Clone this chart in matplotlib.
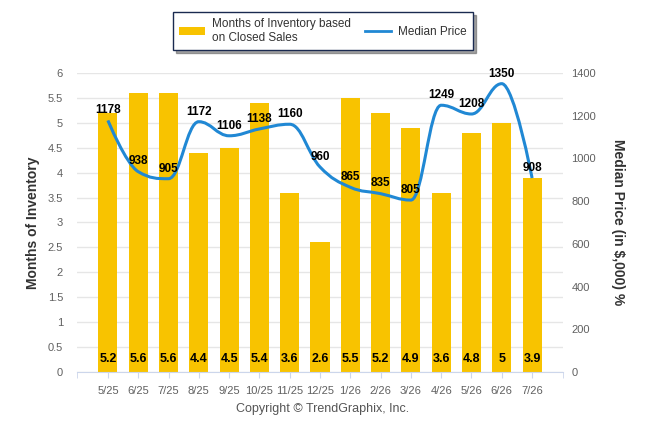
import matplotlib
matplotlib.use("Agg")
import matplotlib.pyplot as plt
from matplotlib.path import Path
from matplotlib.patches import PathPatch, Patch
from matplotlib.lines import Line2D

plt.rcParams['font.family'] = ['Liberation Sans', 'DejaVu Sans']

# Dados do gráfico
meses = ["5/25", "6/25", "7/25", "8/25", "9/25", "10/25", "11/25", "12/25",
         "1/26", "2/26", "3/26", "4/26", "5/26", "6/26", "7/26"]
estoque = [5.2, 5.6, 5.6, 4.4, 4.5, 5.4, 3.6, 2.6, 5.5, 5.2, 4.9, 3.6, 4.8, 5, 3.9]
preco = [1178, 938, 905, 1172, 1106, 1138, 1160, 960, 865, 835, 805, 1249, 1208, 1350, 908]

COR_BARRA = "#F8C300"
COR_LINHA = "#2088D4"
COR_TEXTO = "#606060"


def caminho_spline(xs, ys, suav=1.5):
    """Curva suave estilo Highcharts (bezier cúbica com pontos de controle)."""
    n = len(xs)
    esq = [None] * n
    dir_ = [None] * n
    for i in range(n):
        px, py = xs[i], ys[i]
        if i == 0 or i == n - 1:
            esq[i] = (px, py)
            dir_[i] = (px, py)
            continue
        lx, ly = xs[i - 1], ys[i - 1]
        nx, ny = xs[i + 1], ys[i + 1]
        d = suav + 1
        lcx = (suav * px + lx) / d
        lcy = (suav * py + ly) / d
        rcx = (suav * px + nx) / d
        rcy = (suav * py + ny) / d
        if rcx != lcx:
            corr = ((rcy - lcy) * (rcx - px)) / (rcx - lcx) + py - rcy
            lcy += corr
            rcy += corr
        if lcy > ly and lcy > py:
            lcy = max(ly, py)
            rcy = 2 * py - lcy
        elif lcy < ly and lcy < py:
            lcy = min(ly, py)
            rcy = 2 * py - lcy
        if rcy > ny and rcy > py:
            rcy = max(ny, py)
            lcy = 2 * py - rcy
        elif rcy < ny and rcy < py:
            rcy = min(ny, py)
            lcy = 2 * py - rcy
        esq[i] = (lcx, lcy)
        dir_[i] = (rcx, rcy)
    verts = [(xs[0], ys[0])]
    codes = [Path.MOVETO]
    for i in range(1, n):
        verts += [dir_[i - 1], esq[i], (xs[i], ys[i])]
        codes += [Path.CURVE4] * 3
    return Path(verts, codes)


fig = plt.figure(figsize=(6.46, 4.34), dpi=100)
ax = fig.add_axes([0.1192, 0.1429, 0.7523, 0.6889])
ax2 = ax.twinx()

x = list(range(len(meses)))
ax.bar(x, estoque, width=0.63, color=COR_BARRA, zorder=2)
ax.set_xlim(-1.02, len(meses) + 0.02)
ax.set_ylim(0, 6)
ax.set_yticks([i * 0.5 for i in range(13)])
ax.set_yticklabels([("%g" % (i * 0.5)) for i in range(13)])
ax.grid(axis='y', color="#e6e6e6", linewidth=1, zorder=0)
ax.set_axisbelow(True)
ax.set_xticks(x)
ax.set_xticklabels(meses)
ax.set_xticks([-1.02, len(meses) + 0.02], minor=True)
ax.tick_params(axis='x', which='major', length=4, color="#ccd6eb", pad=6,
               labelsize=8, labelcolor=COR_TEXTO)
ax.tick_params(axis='x', which='minor', length=4, color="#ccd6eb")
ax.tick_params(axis='y', length=0, pad=10, labelsize=8, labelcolor=COR_TEXTO)
for lado in ["top", "left", "right"]:
    ax.spines[lado].set_visible(False)
ax.spines["bottom"].set_color("#ccd6eb")

for i, v in enumerate(estoque):
    ax.annotate("%g" % v, (i, 0), xytext=(0, 9), textcoords="offset points",
                ha="center", va="center", fontsize=9, fontweight="bold", color="black", zorder=5)

ax2.set_ylim(0, 1400)
ax2.set_yticks(range(0, 1401, 200))
ax2.tick_params(axis='y', length=0, pad=6, labelsize=8, labelcolor=COR_TEXTO)
for lado in ["top", "left", "right", "bottom"]:
    ax2.spines[lado].set_visible(False)
ax2.add_patch(PathPatch(caminho_spline(x, preco), fill=False, edgecolor=COR_LINHA,
                        linewidth=2.2, zorder=3))
for i, v in enumerate(preco):
    ax2.annotate(str(v), (i, v), xytext=(0, 3), textcoords="offset points",
                 ha="center", va="bottom", fontsize=8.5, fontweight="bold", color="black", zorder=5)

ax.set_ylabel("Months of Inventory", fontsize=10, fontweight="bold", color="#333333")
ax.yaxis.set_label_coords(-0.076, 0.5)
ax2.set_ylabel("Median Price (in $,000) %", fontsize=10, fontweight="bold", color="#333333",
               rotation=-90, va="center")
ax2.yaxis.set_label_coords(1.113, 0.5)

itens = [Patch(facecolor=COR_BARRA, edgecolor="none"),
         Line2D([0], [0], color=COR_LINHA, linewidth=2)]
leg = fig.legend(itens, ["Months of Inventory based\non Closed Sales", "Median Price"],
                 loc="upper center", bbox_to_anchor=(0.5, 0.972), borderaxespad=0,
                 ncol=2, fontsize=8.5, frameon=True, fancybox=False, shadow=True,
                 handlelength=2.2, handletextpad=0.6, columnspacing=1.2, borderpad=0.5)
leg.get_frame().set_edgecolor("#1a2a50")
leg.get_frame().set_linewidth(1)
for t in leg.get_texts():
    t.set_color("#333333")

fig.text(0.5, 0.057, "Copyright © TrendGraphix, Inc.", ha="center", va="center",
         fontsize=9, color="#555555")

fig.savefig("out.png", dpi=100)
